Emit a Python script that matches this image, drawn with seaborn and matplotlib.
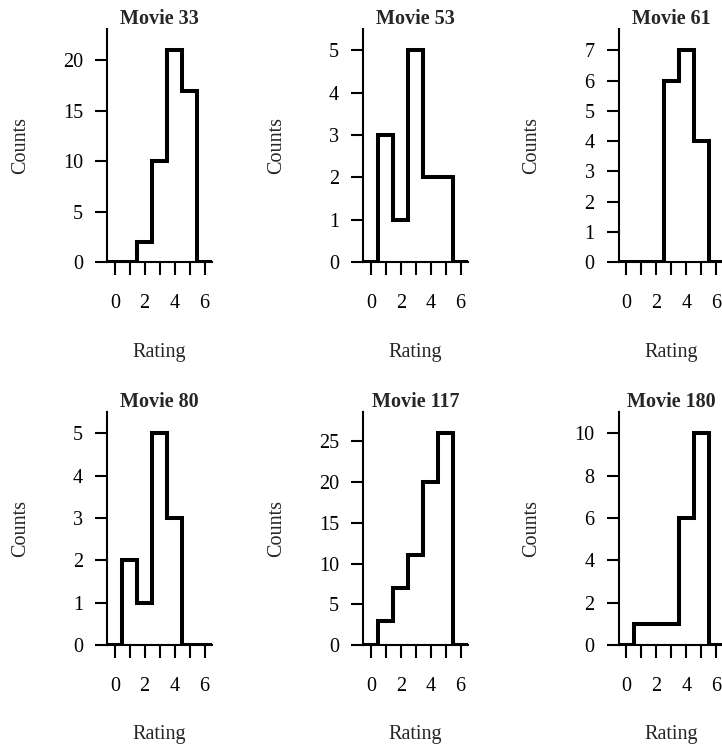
import numpy as np
import pandas as pd
import matplotlib
matplotlib.use("Agg")
import matplotlib.pyplot as plt
import seaborn as sns

# ---- data ----
ratings = [0, 1, 2, 3, 4, 5, 6]
movie_titles = ["Movie 33", "Movie 53", "Movie 61", "Movie 80", "Movie 117", "Movie 180"]
counts_33 = [0, 0, 2, 10, 21, 17, 0]
counts_53 = [0, 3, 1, 5, 2, 2, 0]
counts_61 = [0, 0, 0, 6, 7, 4, 0]
counts_80 = [0, 2, 1, 5, 3, 0, 0]
counts_117 = [0, 3, 7, 11, 20, 26, 0]
counts_180 = [0, 1, 1, 1, 6, 10, 0]
all_counts = [counts_33, counts_53, counts_61, counts_80, counts_117, counts_180]
y_tick_steps = [5, 1, 1, 1, 5, 2]
x_ticks = [0, 1, 2, 3, 4, 5, 6]
x_tick_labels = ["0", "", "2", "", "4", "", "6"]

sns.set_style("ticks")
plt.rcParams["font.family"] = ["Liberation Serif", "DejaVu Serif"]
plt.rcParams["font.size"] = 14.5

fig = plt.figure(figsize=(7.22, 7.49), dpi=100)

lefts = [0.1486, 0.5032, 0.8573]
bottoms = [0.650, 0.1389]
w, h = 0.145, 0.311

for i, (title, counts, step) in enumerate(zip(movie_titles, all_counts, y_tick_steps)):
    r, c = divmod(i, 3)
    ax = fig.add_axes([lefts[c], bottoms[r], w, h])
    df = pd.DataFrame({"Rating": ratings, "Counts": counts})
    sns.histplot(data=df, x="Rating", weights="Counts", discrete=True,
                 element="step", fill=False, color="black", linewidth=2.9,
                 ax=ax)
    for ln in ax.lines:
        ln.set_solid_joinstyle("miter")
    ymax = max(counts) * 1.1
    ax.set_xlim(-0.5, 6.5)
    ax.set_ylim(0, ymax)
    ax.set_yticks(np.arange(0, ymax, step))
    ax.set_xticks(x_ticks)
    ax.set_xticklabels(x_tick_labels)
    sns.despine(ax=ax)
    for s in ("left", "bottom"):
        ax.spines[s].set_linewidth(1.5)
        ax.spines[s].set_color("black")
    ax.tick_params(axis="both", direction="out", length=9, width=1.5,
                   color="black", labelsize=14.5, labelcolor="black")
    ax.tick_params(axis="y", pad=8.5)
    ax.tick_params(axis="x", pad=14)
    ax.set_title(title, fontweight="bold", fontsize=14.5, pad=3.5)
    ax.set_xlabel("Rating", fontsize=14.5)
    ax.set_ylabel("Counts", fontsize=14.5)
    ax.xaxis.set_label_coords(0.5, -0.345)
    ax.yaxis.set_label_coords(-0.74, 0.5)

fig.savefig("out.png", dpi=100)
